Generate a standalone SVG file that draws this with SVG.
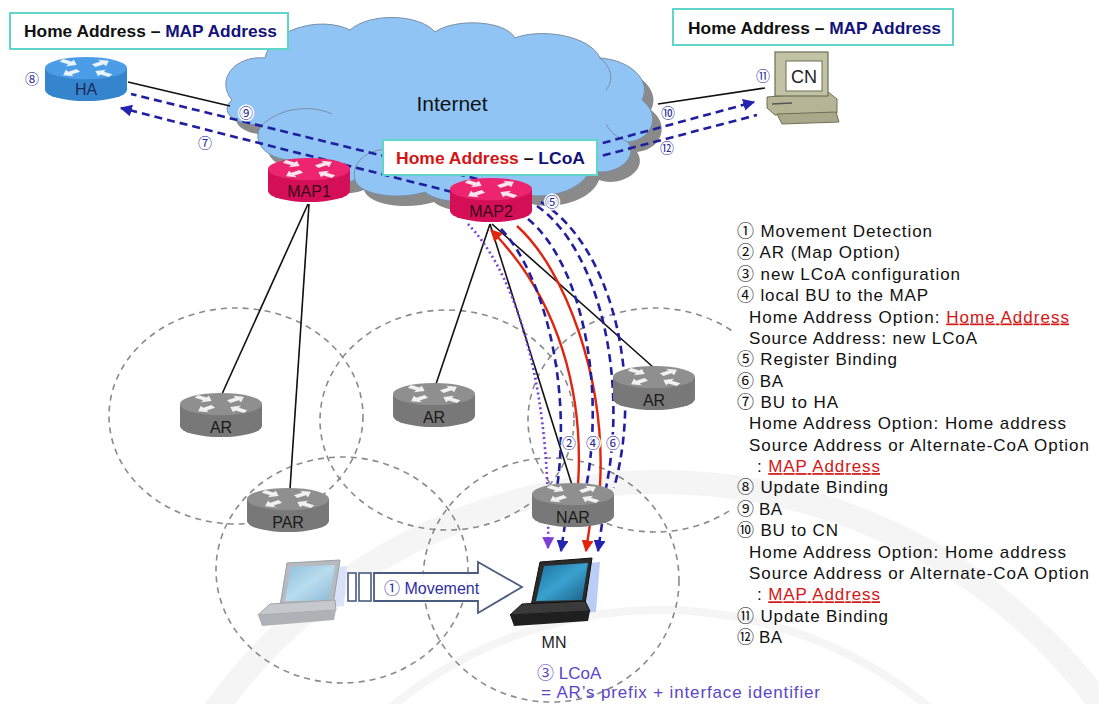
<svg xmlns="http://www.w3.org/2000/svg" xmlns:xlink="http://www.w3.org/1999/xlink" width="1099" height="704" viewBox="0 0 1099 704">
  <style>
    text { font-family: "Liberation Sans", "Noto Sans CJK KR", sans-serif; }
    .rlabel { font-size: 16px; text-anchor: middle; }
    .num { font-size: 14px; fill: #27279a; text-anchor: middle; }
    .num-bg { paint-order: stroke; stroke: #fff; stroke-width: 3px; }
    .legend { font-size: 17px; fill: #111; }
    .ul { fill: #d41515; text-decoration: underline; }
    .tag { font-size: 16.5px; font-weight: bold; fill: #111; }
    .tagbox { fill: #fff; stroke: #5fd6c8; stroke-width: 2; }
    .zone { fill: none; stroke: #8a8a8a; stroke-width: 1.6; stroke-dasharray: 6 5; }
    .wire { fill: none; stroke: #111; stroke-width: 1.6; }
    .bu { fill: none; stroke: #1f1fa0; stroke-width: 2.6; stroke-dasharray: 8 5; }
    .red { fill: none; stroke: #e0250f; stroke-width: 2.4; }
    .dot { fill: none; stroke: #7b3ed6; stroke-width: 2.6; stroke-dasharray: 2 3; }
  </style>
  <defs>
    <marker id="ah-navy" viewBox="0 0 10 10" refX="9" refY="5" markerUnits="userSpaceOnUse" markerWidth="12" markerHeight="12" orient="auto">
      <path d="M0,0 L10,5 L0,10 z" fill="#2424b0"/>
    </marker>
    <marker id="ah-red" viewBox="0 0 10 10" refX="9" refY="5" markerUnits="userSpaceOnUse" markerWidth="12" markerHeight="12" orient="auto">
      <path d="M0,0 L10,5 L0,10 z" fill="#e0250f"/>
    </marker>
    <marker id="ah-purple" viewBox="0 0 10 10" refX="9" refY="5" markerUnits="userSpaceOnUse" markerWidth="12" markerHeight="12" orient="auto">
      <path d="M0,0 L10,5 L0,10 z" fill="#7b3ed6"/>
    </marker>
    <!-- router icon: cylinder with four white arrows on the lid -->
    <g id="arw"><polygon points="0,-3.2 10,-3.2 10,-7.5 18,0 10,7.5 10,3.2 0,3.2" fill="#fff"/></g>
    <symbol id="router" viewBox="0 0 82 44" overflow="visible">
      <path d="M0,11 V33 A41,11 0 0 0 82,33 V11 Z" fill="currentColor"/>
      <path d="M0,11 V33 A41,11 0 0 0 82,33 V11 Z" fill="#000" opacity="0.1"/>
      <ellipse cx="41" cy="11" rx="41" ry="11" fill="currentColor"/>
      <ellipse cx="41" cy="11" rx="41" ry="11" fill="#fff" opacity="0.08" stroke="#fff" stroke-opacity="0.7" stroke-width="1"/>
      <g transform="translate(41,11) scale(1,0.5)" opacity="0.88">
        <use href="#arw" transform="rotate(32) translate(-29,0)"/>
        <use href="#arw" transform="rotate(212) translate(-29,0)"/>
        <use href="#arw" transform="rotate(-32) translate(9,0)"/>
        <use href="#arw" transform="rotate(148) translate(9,0)"/>
      </g>
    </symbol>
    <clipPath id="zone-clip"><rect x="0" y="0" width="733" height="704"/></clipPath>
    <linearGradient id="scr-dark" x1="0" y1="0" x2="1" y2="1">
      <stop offset="0" stop-color="#1b6f9c"/>
      <stop offset="0.5" stop-color="#3aa2cf"/>
      <stop offset="1" stop-color="#1a5f88"/>
    </linearGradient>
    <linearGradient id="scr-pale" x1="0" y1="0" x2="1" y2="1">
      <stop offset="0" stop-color="#8cc0dc"/>
      <stop offset="0.5" stop-color="#b9dcee"/>
      <stop offset="1" stop-color="#8bb9d4"/>
    </linearGradient>
  </defs>

  <rect width="1099" height="704" fill="#fff"/>

  <!-- faint seal in the background -->
  <g id="seal" fill="none" stroke="#f1f1f1" opacity="0.7">
    <circle cx="660" cy="1030" r="548" stroke-width="24"/>
    <circle cx="660" cy="1030" r="420" stroke-width="8"/>
  </g>

  <!-- radio coverage areas -->
  <g id="zones" clip-path="url(#zone-clip)">
    <ellipse class="zone" cx="236" cy="416" rx="127" ry="108"/>
    <ellipse class="zone" cx="447" cy="420" rx="127" ry="110"/>
    <ellipse class="zone" cx="655" cy="420" rx="127" ry="112"/>
    <ellipse class="zone" cx="342" cy="570" rx="126" ry="113"/>
    <ellipse class="zone" cx="551" cy="580" rx="128" ry="122"/>
  </g>

  <!-- Internet cloud -->
  <g id="internet">
    <path transform="translate(9,10)" fill="#8a8a8a" d="M232,100 C215,80 235,55 265,58 C270,30 320,15 350,30 C370,12 420,14 435,32 C455,18 505,20 515,38 C540,28 590,35 600,58 C630,60 652,80 642,100 C662,115 652,140 628,142 C640,160 612,178 590,170 C580,196 530,202 515,190 C500,206 440,206 425,192 C400,200 360,196 355,180 C330,190 290,176 293,160 C265,160 250,140 262,125 C230,125 220,110 232,100 Z"/>
    <path fill="#8fc4f4" stroke="#7c8ea6" stroke-width="1" d="M232,100 C215,80 235,55 265,58 C270,30 320,15 350,30 C370,12 420,14 435,32 C455,18 505,20 515,38 C540,28 590,35 600,58 C630,60 652,80 642,100 C662,115 652,140 628,142 C640,160 612,178 590,170 C580,196 530,202 515,190 C500,206 440,206 425,192 C400,200 360,196 355,180 C330,190 290,176 293,160 C265,160 250,140 262,125 C230,125 220,110 232,100 Z"/>
    <path fill="none" stroke="#7c8ea6" stroke-width="1" d="M262,125 C280,108 310,104 332,114 M355,180 C350,160 372,146 395,150 M600,58 C612,68 614,80 606,90 M628,142 C618,138 610,132 606,124"/>
    <text x="452" y="111" font-size="21" text-anchor="middle" fill="#111">Internet</text>
  </g>

  <!-- links and signalling flows -->
  <g id="connectors">
    <!-- physical links -->
    <line class="wire" x1="128" y1="82" x2="230" y2="106"/>
    <line class="wire" x1="765" y1="88" x2="658" y2="104"/>
    <line class="wire" x1="308" y1="204" x2="222" y2="394"/>
    <line class="wire" x1="309" y1="204" x2="290" y2="489"/>
    <line class="wire" x1="490" y1="224" x2="436" y2="384"/>
    <line class="wire" x1="490" y1="224" x2="572" y2="485"/>
    <line class="wire" x1="492" y1="224" x2="653" y2="367"/>
    <!-- flows across the Internet -->
    <line class="bu" x1="490" y1="182" x2="131" y2="94"/>
    <line class="bu" x1="452" y1="192" x2="121" y2="108" marker-end="url(#ah-navy)"/>
    <line class="bu" x1="540" y1="160" x2="754" y2="102" marker-end="url(#ah-navy)"/>
    <line class="bu" x1="540" y1="172" x2="757" y2="115"/>
    <!-- local flows between MAP2, NAR and MN -->
    <path class="dot" d="M468,224 C505,262 552,360 548,548" marker-end="url(#ah-purple)"/>
    <path class="red" d="M578,486 C584,395 560,300 491,230" marker-end="url(#ah-red)"/>
    <path class="bu" d="M501,229 C542,272 572,380 557,488"/>
    <path class="red" d="M517,226 C566,270 606,380 600,486"/>
    <path class="bu" d="M528,219 C580,262 606,380 586,488"/>
    <path class="bu" d="M537,206 C600,250 628,380 606,488"/>
    <path class="bu" d="M541,202 C612,246 644,380 614,488"/>
    <line class="bu" x1="565" y1="524" x2="561" y2="551" marker-end="url(#ah-navy)"/>
    <line class="red" x1="590" y1="524" x2="586" y2="551" marker-end="url(#ah-red)"/>
    <line class="bu" x1="602" y1="524" x2="598" y2="551" marker-end="url(#ah-navy)"/>
  </g>

  <!-- binding cache label on the Internet side -->
  <g id="label-lcoa">
    <rect class="tagbox" x="383" y="140" width="214" height="35"/>
    <text class="tag" x="396" y="164" textLength="189" lengthAdjust="spacingAndGlyphs"><tspan fill="#d41515">Home Address</tspan> – <tspan fill="#12127a">LCoA</tspan></text>
  </g>

  <g id="HA">
    <use href="#router" x="45" y="57" width="82" height="44" color="#3b95e6"/>
    <text class="rlabel" x="86" y="95" fill="#1a2a58">HA</text>
  </g>
  <g id="MAP1">
    <use href="#router" x="268" y="158" width="82" height="44" color="#ec1163"/>
    <text class="rlabel" x="309" y="197" fill="#3a0518">MAP1</text>
  </g>
  <g id="MAP2">
    <use href="#router" x="450" y="178" width="82" height="44" color="#ec1163"/>
    <text class="rlabel" x="491" y="217" fill="#3a0518">MAP2</text>
  </g>
  <g id="AR1">
    <use href="#router" x="180" y="393" width="82" height="44" color="#868686"/>
    <text class="rlabel" x="221" y="433" fill="#1a1a1a">AR</text>
  </g>
  <g id="AR2">
    <use href="#router" x="393" y="383" width="82" height="44" color="#868686"/>
    <text class="rlabel" x="434" y="423" fill="#1a1a1a">AR</text>
  </g>
  <g id="AR3">
    <use href="#router" x="613" y="366" width="82" height="44" color="#868686"/>
    <text class="rlabel" x="654" y="406" fill="#1a1a1a">AR</text>
  </g>
  <g id="PAR">
    <use href="#router" x="247" y="488" width="82" height="44" color="#868686"/>
    <text class="rlabel" x="288" y="528" fill="#1a1a1a">PAR</text>
  </g>
  <g id="NAR">
    <use href="#router" x="532" y="483" width="82" height="44" color="#868686"/>
    <text class="rlabel" x="573" y="523" fill="#1a1a1a">NAR</text>
  </g>

  <g id="CN">
    <polygon points="767,97 828,92 837,99 837,113 775,115 767,108" fill="#b5b596" stroke="#6f6f58" stroke-width="1"/>
    <line x1="772" y1="104" x2="792" y2="103" stroke="#555" stroke-width="1.5"/>
    <polygon points="777,114 836,112 839,122 782,124" fill="#a9a98a" stroke="#6f6f58" stroke-width="1"/>
    <rect x="775" y="52" width="53" height="44" fill="#c2c2a4" stroke="#6f6f58" stroke-width="1.2"/>
    <rect x="786" y="61" width="36" height="30" fill="#fff" stroke="#6f6f58" stroke-width="1"/>
    <text x="804" y="83" font-size="18" text-anchor="middle" fill="#222">CN</text>
  </g>

  <g id="PN-old">
    <polygon points="300,568 347,566 344,606 290,610" fill="#d3ddf8" opacity="0.8"/>
    <polygon points="287,563 340,560 333,604 280,606" fill="#b7bbc0" stroke="#9aa0a6" stroke-width="1"/>
    <polygon points="291,567 335,565 329,600 285,601" fill="url(#scr-pale)"/>
    <polygon points="270,604 335,600 336,610 258,615" fill="#c5c9cd" stroke="#a0a4a8" stroke-width="1"/>
    <polygon points="258,615 336,610 334,620 262,626" fill="#aeb2b6"/>
  </g>

  <g id="MN">
    <polygon points="548,566 600,562 596,612 538,616" fill="#a9c1f2" opacity="0.8"/>
    <polygon points="540,562 592,558 585,604 531,606" fill="#2b2b2b" stroke="#111" stroke-width="1"/>
    <polygon points="544,566 588,563 582,600 536,601" fill="url(#scr-dark)"/>
    <polygon points="522,604 585,601 590,611 510,615" fill="#3a3a3a" stroke="#111" stroke-width="1"/>
    <polygon points="510,615 590,611 588,621 514,626" fill="#1f1f1f"/>
    <text x="554" y="648" font-size="16" text-anchor="middle" fill="#222">MN</text>
  </g>

  <!-- movement of the mobile node -->
  <g id="movement">
    <rect x="348" y="573" width="8" height="28" fill="#fff" stroke="#4a5a80" stroke-width="1.6"/>
    <rect x="359" y="573" width="12" height="28" fill="#fff" stroke="#4a5a80" stroke-width="1.6"/>
    <path d="M374,573 H478 V562 L522,587 L478,613 V601 H374 Z" fill="#fff" fill-opacity="0.85" stroke="#4a5a80" stroke-width="1.8"/>
    <text x="384" y="594" font-size="16" fill="#2f2fa4">① Movement</text>
  </g>

  <g id="lcoa-note" fill="#5a46c8" font-size="17">
    <text x="537" y="679">③ LCoA</text>
    <text x="541" y="698" textLength="279" lengthAdjust="spacing">= AR’s prefix + interface identifier</text>
  </g>

  <!-- flow numbers -->
  <g id="flow-numbers">
    <text class="num" x="32" y="84">⑧</text>
    <text class="num num-bg" x="246" y="118">⑨</text>
    <text class="num" x="205" y="148">⑦</text>
    <text class="num num-bg" x="668" y="118">⑩</text>
    <text class="num" x="763" y="81">⑪</text>
    <text class="num" x="667" y="153">⑫</text>
    <text class="num num-bg" x="552" y="207">⑤</text>
    <text class="num num-bg" x="569" y="448">②</text>
    <text class="num num-bg" x="593" y="448">④</text>
    <text class="num num-bg" x="613" y="448">⑥</text>
  </g>

  <!-- address labels -->
  <g id="label-ha">
    <rect class="tagbox" x="10" y="13" width="278" height="36"/>
    <text class="tag" x="24" y="37" textLength="253" lengthAdjust="spacingAndGlyphs">Home Address – <tspan fill="#12127a">MAP Address</tspan></text>
  </g>
  <g id="label-cn">
    <rect class="tagbox" x="673" y="9" width="280" height="36"/>
    <text class="tag" x="688" y="34" textLength="253" lengthAdjust="spacingAndGlyphs">Home Address – <tspan fill="#12127a">MAP Address</tspan></text>
  </g>

  <!-- procedure steps -->
  <g id="legend" class="legend">
    <text class="legend" x="737" y="237" textLength="195" lengthAdjust="spacing">① Movement Detection</text>
    <text class="legend" x="737" y="258.4" textLength="163" lengthAdjust="spacing">② AR (Map Option)</text>
    <text class="legend" x="737" y="279.7" textLength="223" lengthAdjust="spacing">③ new LCoA configuration</text>
    <text class="legend" x="737" y="301.1" textLength="191" lengthAdjust="spacing">④ local BU to the MAP</text>
    <text class="legend" x="749" y="322.5" textLength="320" lengthAdjust="spacing">Home Address Option: <tspan class="ul">Home Address</tspan></text>
    <text class="legend" x="749" y="343.9" textLength="228" lengthAdjust="spacing">Source Address: new LCoA</text>
    <text class="legend" x="737" y="365.2" textLength="160" lengthAdjust="spacing">⑤ Register Binding</text>
    <text class="legend" x="737" y="386.6" textLength="46" lengthAdjust="spacing">⑥ BA</text>
    <text class="legend" x="737" y="408" textLength="101" lengthAdjust="spacing">⑦ BU to HA</text>
    <text class="legend" x="749" y="429.3" textLength="317" lengthAdjust="spacing">Home Address Option: Home address</text>
    <text class="legend" x="749" y="450.7" textLength="340" lengthAdjust="spacing">Source Address or Alternate-CoA Option</text>
    <text class="legend" x="757" y="472.1" textLength="123" lengthAdjust="spacing">: <tspan class="ul">MAP Address</tspan></text>
    <text class="legend" x="737" y="493.4" textLength="151" lengthAdjust="spacing">⑧ Update Binding</text>
    <text class="legend" x="737" y="514.8" textLength="45" lengthAdjust="spacing">⑨ BA</text>
    <text class="legend" x="737" y="536.2" textLength="101" lengthAdjust="spacing">⑩ BU to CN</text>
    <text class="legend" x="749" y="557.6" textLength="317" lengthAdjust="spacing">Home Address Option: Home address</text>
    <text class="legend" x="749" y="578.9" textLength="340" lengthAdjust="spacing">Source Address or Alternate-CoA Option</text>
    <text class="legend" x="757" y="600.3" textLength="123" lengthAdjust="spacing">: <tspan class="ul">MAP Address</tspan></text>
    <text class="legend" x="737" y="621.7" textLength="151" lengthAdjust="spacing">⑪ Update Binding</text>
    <text class="legend" x="737" y="643" textLength="45" lengthAdjust="spacing">⑫ BA</text>
  </g>
</svg>
